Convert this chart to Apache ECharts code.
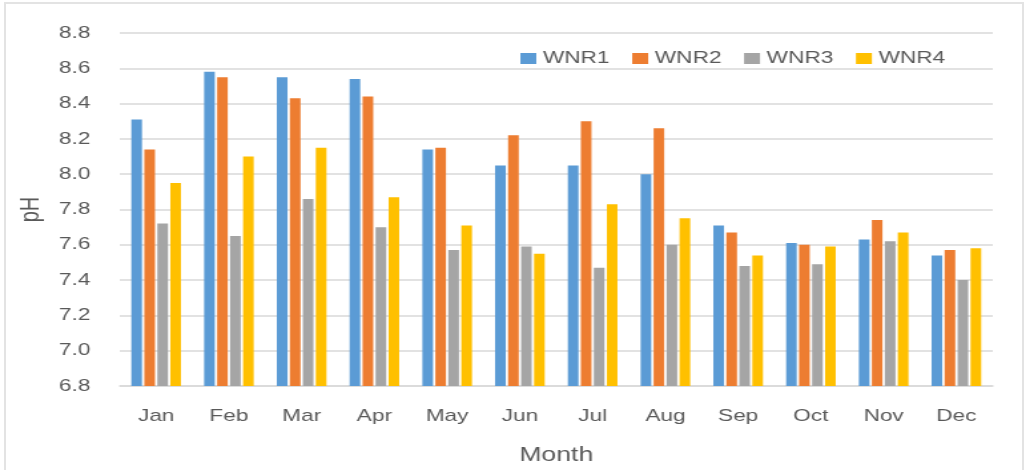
<!DOCTYPE html>
<html>
<head>
<meta charset="utf-8">
<script src="https://cdn.jsdelivr.net/npm/echarts@6/dist/echarts.min.js"></script>
<style>
  html, body { margin: 0; padding: 0; background: #fff; overflow: hidden; }
  #frame { position: absolute; left: 4px; top: 2px; width: 1016px; height: 500px; border: 2px solid #e3e3e3; }
  /* the reference is stretched sideways, so draw narrow and scale up */
  #main { position: absolute; left: 0; top: 0; width: 777px; height: 470px; transform: scaleX(1.3308); transform-origin: 0 0; }
</style>
</head>
<body>
<div id="frame"></div>
<div id="main"></div>
<script>
var months = ['Jan', 'Feb', 'Mar', 'Apr', 'May', 'Jun', 'Jul', 'Aug', 'Sep', 'Oct', 'Nov', 'Dec'];
var wnr1 = [8.31, 8.58, 8.55, 8.54, 8.14, 8.05, 8.05, 8.00, 7.71, 7.61, 7.63, 7.54];
var wnr2 = [8.14, 8.55, 8.43, 8.44, 8.15, 8.22, 8.30, 8.26, 7.67, 7.60, 7.74, 7.57];
var wnr3 = [7.72, 7.65, 7.86, 7.70, 7.57, 7.59, 7.47, 7.60, 7.48, 7.49, 7.62, 7.40];
var wnr4 = [7.95, 8.10, 8.15, 7.87, 7.71, 7.55, 7.83, 7.75, 7.54, 7.59, 7.67, 7.58];
var yTicks = { min: 6.8, max: 8.8, step: 0.2 };

var txt = '#595959';
var font = 'Liberation Sans';

function bar(name, data, color) {
    return {
        name: name,
        type: 'bar',
        data: data,
        barWidth: 8,
        barGap: '22%',
        itemStyle: { color: color },
        emphasis: { disabled: true }
    };
}

var option = {
    animation: false,
    textStyle: { fontFamily: font },
    grid: { left: 90, right: 31, top: 33, bottom: 81 },
    legend: {
        left: 386,
        top: 45,
        itemWidth: 12,
        itemHeight: 11,
        itemGap: 17,
        icon: 'rect',
        textStyle: { color: txt, fontSize: 17, fontFamily: font },
        data: ['WNR1', 'WNR2', 'WNR3', 'WNR4']
    },
    xAxis: {
        type: 'category',
        data: months,
        name: 'Month',
        nameLocation: 'middle',
        nameGap: 59,
        nameTextStyle: { color: txt, fontSize: 20, fontFamily: font },
        axisLine: { lineStyle: { color: '#d9d9d9', width: 1.5 } },
        axisTick: { show: false },
        axisLabel: { color: txt, fontSize: 17, margin: 22, fontFamily: font }
    },
    yAxis: {
        type: 'value',
        min: yTicks.min,
        max: yTicks.max,
        interval: yTicks.step,
        name: 'pH',
        nameLocation: 'middle',
        nameGap: 52,
        nameTextStyle: { color: txt, fontSize: 20, fontFamily: font },
        axisLine: { show: false },
        axisTick: { show: false },
        splitLine: { lineStyle: { color: '#d9d9d9', width: 1.5 } },
        axisLabel: {
            color: txt, fontSize: 17, margin: 22, fontFamily: font,
            formatter: function (v) { return v.toFixed(1); }
        }
    },
    series: [
        bar('WNR1', wnr1, '#5b9bd5'),
        bar('WNR2', wnr2, '#ed7d31'),
        bar('WNR3', wnr3, '#a5a5a5'),
        bar('WNR4', wnr4, '#ffc000')
    ]
};

var myChart = echarts.init(document.getElementById('main'));
myChart.setOption(option);
</script>
</body>
</html>
